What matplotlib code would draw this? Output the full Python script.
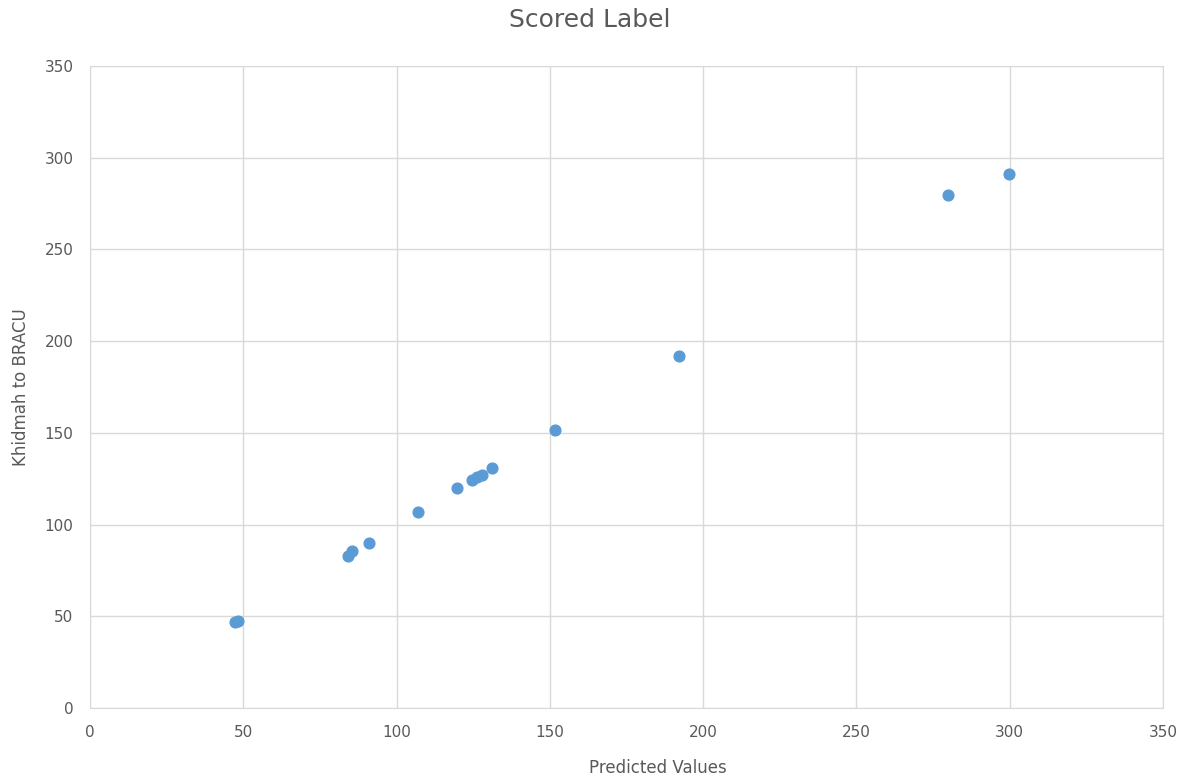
import matplotlib.pyplot as plt

predicted = [47.3, 48.3, 84.0, 85.6, 91.0, 107.0, 119.8, 124.7, 126.3, 127.9, 131.0,
             151.7, 192.1, 279.8, 299.7]
actual = [46.9, 47.4, 83.0, 85.4, 89.9, 106.9, 119.8, 124.3, 126.1, 127.0, 130.7,
          151.6, 191.9, 279.7, 291.2]
ticks = [0, 50, 100, 150, 200, 250, 300, 350]

fig = plt.figure(figsize=(11.86, 7.82), dpi=100)
ax = fig.add_axes([0.0759, 0.0946, 0.9047, 0.821])

ax.scatter(predicted, actual, s=60, color='#5B9BD5', zorder=3)

ax.set_xlim(0, 350)
ax.set_ylim(0, 350)
ax.set_xticks(ticks)
ax.set_yticks(ticks)
ax.grid(True, color='#D9D9D9', linewidth=1)
ax.set_axisbelow(True)
for s in ax.spines.values():
    s.set_color('#D9D9D9')
ax.tick_params(length=0, labelsize=11, colors='#595959', pad=12)

fig.text(590 / 1186, 1 - 20 / 782, 'Scored Label', fontsize=18, color='#595959',
         ha='center', va='center')
ax.set_xlabel('Predicted Values', fontsize=12, color='#595959')
ax.xaxis.set_label_coords((658 - 90) / 1073, -(768 - 708) / 642)
ax.xaxis.label.set_va('center')
ax.set_ylabel('Khidmah to BRACU', fontsize=12, color='#595959', labelpad=10)

fig.savefig('out.png', dpi=100)
